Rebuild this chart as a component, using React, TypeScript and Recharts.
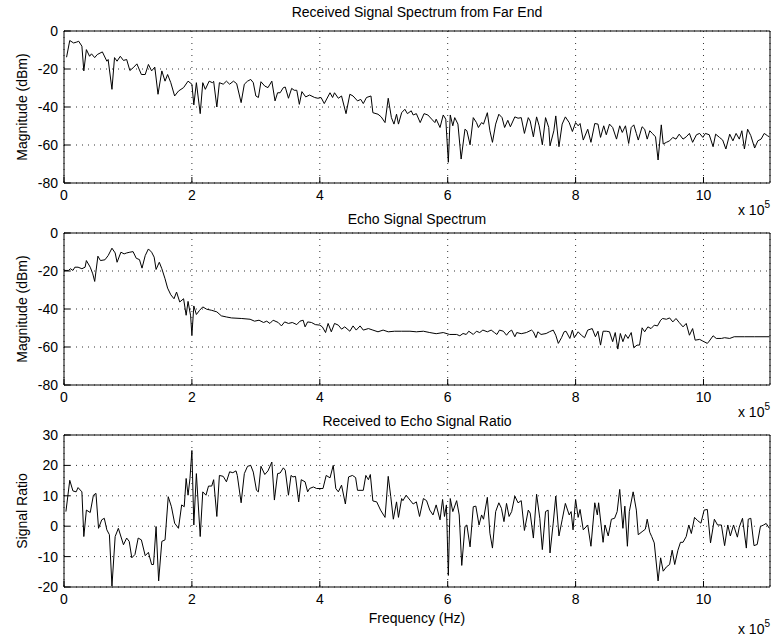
import { LineChart, Line, XAxis, YAxis, CartesianGrid } from "recharts";

const FONT = "'Liberation Sans', Arial, Helvetica, sans-serif";
const FS = 14;

// x in units of 1e5 Hz
const xTicks = [0, 2, 4, 6, 8, 10];
const magTicks = [-80, -60, -40, -20, 0];
const ratioTicks = [-20, -10, 0, 10, 20, 30];

const recvFreq = [
  0.04, 0.09, 0.15, 0.2, 0.23, 0.28, 0.31, 0.35, 0.4, 0.43, 0.48, 0.52, 0.6, 0.67, 0.69, 0.75, 0.79, 0.83, 0.88, 0.93,
  0.98, 1.03, 1.08, 1.14, 1.21, 1.27, 1.32, 1.37, 1.42, 1.47, 1.53, 1.58, 1.62, 1.67, 1.73, 1.79, 1.87, 1.94, 2.0, 2.03,
  2.07, 2.13, 2.17, 2.21, 2.27, 2.32, 2.34, 2.39, 2.43, 2.49, 2.54, 2.59, 2.65, 2.7, 2.77, 2.82, 2.87, 2.92, 2.96, 3.0,
  3.04, 3.08, 3.14, 3.19, 3.25, 3.3, 3.34, 3.38, 3.43, 3.46, 3.51, 3.56, 3.6, 3.64, 3.68, 3.72, 3.78, 3.84, 3.92, 3.97,
  4.02, 4.07, 4.16, 4.2, 4.23, 4.29, 4.34, 4.41, 4.47, 4.52, 4.59, 4.64, 4.68, 4.73, 4.8, 4.83, 4.91, 4.96, 5.02, 5.07,
  5.12, 5.16, 5.2, 5.23, 5.28, 5.33, 5.37, 5.43, 5.46, 5.51, 5.57, 5.63, 5.69, 5.75, 5.8, 5.82, 5.88, 5.93, 5.97, 6.01,
  6.04, 6.08, 6.11, 6.16, 6.21, 6.27, 6.3, 6.35, 6.4, 6.45, 6.48, 6.53, 6.56, 6.62, 6.66, 6.7, 6.75, 6.8, 6.85, 6.89,
  6.94, 6.98, 7.05, 7.1, 7.15, 7.2, 7.26, 7.29, 7.34, 7.39, 7.43, 7.48, 7.53, 7.58, 7.6, 7.66, 7.69, 7.74, 7.79, 7.84,
  7.9, 7.95, 8.0, 8.04, 8.07, 8.12, 8.19, 8.24, 8.3, 8.35, 8.39, 8.44, 8.48, 8.53, 8.58, 8.64, 8.69, 8.73, 8.78, 8.83,
  8.87, 8.91, 8.95, 8.98, 9.04, 9.08, 9.12, 9.16, 9.2, 9.25, 9.29, 9.34, 9.37, 9.42, 9.47, 9.52, 9.57, 9.62, 9.68, 9.73,
  9.78, 9.83, 9.89, 9.94, 9.99, 10.03, 10.09, 10.15, 10.19, 10.25, 10.3, 10.35, 10.41, 10.46, 10.51, 10.56, 10.6, 10.64,
  10.69, 10.74, 10.8, 10.85, 10.9, 10.95, 11.0, 11.03,
];
const recvDb = [
  -13.8, -5, -6.3, -5.8, -5.4, -8, -21, -9.8, -13.3, -12, -14, -12.4, -11, -15.9, -15, -30.7, -14, -15.9, -13.3, -15.5,
  -15, -20.8, -19.4, -17.3, -22.9, -22.9, -17.6, -21, -19, -33.3, -21, -26.4, -22.9, -27.2, -34.2, -31.6, -29.8, -26.4, -28, -38.9,
  -27.2, -43.5, -27.2, -30.7, -26.4, -27.2, -26.5, -40, -27.2, -28, -26.4, -28, -26.4, -27.7, -37.7, -28, -26.4, -25.5, -27.2, -34.2,
  -35, -26.7, -29, -29.8, -26.4, -36.8, -32.5, -32.5, -29.8, -29.5, -35.4, -30.2, -31.2, -31.2, -38.6, -31.9, -34.7, -33.7, -35, -35.4,
  -35, -38.2, -32.5, -35, -32.5, -35.4, -34.2, -43.5, -33.3, -34.2, -36.8, -36, -38.2, -35, -34.2, -43, -43.8, -45.2, -48.2, -35.4,
  -45.6, -49, -43.8, -49, -43, -41.2, -43.5, -42, -44.2, -43.5, -48.2, -43.5, -44.2, -46.4, -48.2, -46.4, -50.8, -44.2, -46.4, -69.1,
  -44.2, -49.9, -45.6, -49, -67.4, -51.7, -52.5, -59.9, -45.6, -48.2, -50.8, -48.2, -49, -43, -52.5, -58.6, -49, -43.8, -45.6, -50.8,
  -47, -50.4, -45.2, -45.9, -45.6, -53.9, -45.6, -47.4, -55.7, -45.2, -49.9, -59.9, -45.6, -50.8, -60.4, -52.5, -44.7, -60.9, -49, -45.2,
  -48.2, -52.9, -48.2, -49.9, -48.7, -57.4, -51.7, -58.6, -48.7, -49, -56, -49.9, -54.6, -49, -50.8, -56.9, -49.9, -53.4, -49.9, -59.2,
  -50.8, -49.4, -53.9, -57.4, -50.4, -51.7, -56.9, -52.5, -53.9, -55.7, -67.9, -49.4, -59.5, -58.6, -57.8, -56, -56.9, -54.3, -56.9, -55.7,
  -53.9, -58.6, -54.6, -53.9, -56, -53.9, -54.6, -60.9, -54.3, -56, -57.4, -62.1, -54.3, -57.8, -53.9, -56.9, -52.5, -62.1,
  -51.7, -55.1, -61.6, -57.8, -56.9, -53.9, -55.1, -55.7,
];

const echoFreq = [
  0, 0.07, 0.1, 0.14, 0.17, 0.22, 0.28, 0.33, 0.35, 0.41, 0.45, 0.48, 0.53, 0.57, 0.64, 0.69, 0.75, 0.8, 0.83, 0.89,
  0.94, 0.98, 1.03, 1.08, 1.13, 1.18, 1.22, 1.27, 1.32, 1.37, 1.41, 1.44, 1.49, 1.53, 1.58, 1.62, 1.67, 1.72, 1.76, 1.81,
  1.87, 1.91, 1.94, 1.98, 2.0, 2.03, 2.07, 2.12, 2.17, 2.23, 2.31, 2.39, 2.46, 2.54, 2.62, 2.78, 2.91, 2.98, 3.05, 3.12,
  3.17, 3.22, 3.27, 3.35, 3.4, 3.45, 3.51, 3.57, 3.64, 3.69, 3.74, 3.77, 3.81, 3.87, 3.93, 4.0, 4.04, 4.09, 4.13, 4.18,
  4.23, 4.29, 4.34, 4.39, 4.47, 4.52, 4.57, 4.63, 4.68, 4.76, 4.83, 4.91, 4.99, 5.07, 5.17, 5.28, 5.41, 5.51, 5.62, 5.72,
  5.82, 5.93, 6.03, 6.14, 6.19, 6.24, 6.29, 6.33, 6.4, 6.45, 6.5, 6.55, 6.62, 6.68, 6.73, 6.77, 6.81, 6.87, 6.92, 6.96,
  7.0, 7.05, 7.08, 7.15, 7.23, 7.31, 7.34, 7.38, 7.41, 7.46, 7.54, 7.59, 7.65, 7.69, 7.73, 7.78, 7.82, 7.85, 7.91, 7.95,
  7.98, 8.04, 8.09, 8.14, 8.19, 8.26, 8.31, 8.35, 8.39, 8.43, 8.48, 8.53, 8.58, 8.62, 8.66, 8.7, 8.74, 8.78, 8.82, 8.87,
  8.91, 8.96, 9.0, 9.04, 9.08, 9.13, 9.18, 9.23, 9.28, 9.33, 9.36, 9.42, 9.47, 9.52, 9.57, 9.62, 9.68, 9.73, 9.78, 9.83,
  9.87, 9.94, 9.99, 10.06, 10.09, 10.15, 10.2, 10.28, 10.33, 10.41, 10.48, 10.64, 10.8, 11.03,
];
const echoDb = [
  -19.7, -19.7, -18.8, -19.7, -18, -18, -18.8, -18, -14.5, -18, -21.5, -25.5, -12.2, -14.5, -14.1, -11.9, -8, -10.5, -15.4, -10.1,
  -11, -10.5, -10.1, -9.8, -13.3, -14, -18.5, -11.9, -8.4, -10.1, -12.7, -19.2, -15.4, -18.8, -24.1, -29, -32.5, -34.6, -31.1, -36.3,
  -34.6, -43.3, -36, -43.6, -53.8, -38.4, -42.9, -40.7, -38.9, -40.1, -40.7, -41.5, -43.6, -44.2, -44.7, -45, -45.4, -46.4, -45.9, -47.1,
  -46.4, -47.6, -45.9, -47.1, -48.9, -46.8, -47.6, -47.1, -48.2, -46.4, -45.9, -49.4, -46.8, -47.1, -48.2, -48.5, -49.4, -52.4, -47.6, -52,
  -47.6, -48.5, -50.6, -49.4, -51.7, -48.9, -51.1, -48.9, -51.1, -50.3, -51.1, -52, -51.1, -52, -51.7, -51.7, -51.7, -52, -51.7, -52.4,
  -53, -52.4, -53.4, -53.4, -54.1, -52.9, -53.4, -51.7, -53.4, -51.7, -52.4, -51.1, -52, -51.1, -52.4, -53.4, -51.1, -51.7, -53.8, -52,
  -51.1, -54.6, -52.4, -53, -52.4, -51.1, -52, -55.1, -52, -53.4, -52.9, -52, -51.1, -53.8, -58.1, -55.1, -52, -51.7, -55.5, -51.1,
  -55.1, -52, -53.8, -55.1, -51.1, -50.3, -54.6, -51.7, -59, -51.7, -51.7, -52, -57.2, -52.4, -61.1, -52.9, -57.2, -53.4, -55.5, -52.4,
  -60.4, -59, -59, -49.9, -52, -49.4, -50.3, -48.5, -48.9, -45.9, -45, -45.4, -44.7, -46.8, -45, -47.1, -49.4, -47.6, -53.8, -50.3,
  -56.4, -56, -56.9, -58.1, -56.9, -54.1, -55.5, -55.5, -55.1, -55.5, -54.6, -54.6, -54.6, -54.6,
];

const ratioFreq = [
  0.03, 0.09, 0.14, 0.19, 0.22, 0.28, 0.31, 0.35, 0.41, 0.46, 0.5, 0.54, 0.59, 0.63, 0.67, 0.71, 0.75, 0.8, 0.85, 0.93,
  0.98, 1.02, 1.06, 1.11, 1.16, 1.21, 1.27, 1.32, 1.37, 1.4, 1.44, 1.48, 1.53, 1.58, 1.63, 1.68, 1.73, 1.79, 1.84, 1.88,
  1.91, 1.94, 1.97, 2.0, 2.03, 2.07, 2.13, 2.17, 2.22, 2.26, 2.31, 2.34, 2.39, 2.43, 2.49, 2.54, 2.59, 2.64, 2.69, 2.71,
  2.77, 2.82, 2.87, 2.92, 2.96, 3.01, 3.04, 3.08, 3.14, 3.19, 3.25, 3.29, 3.34, 3.38, 3.43, 3.46, 3.51, 3.55, 3.58, 3.62,
  3.67, 3.71, 3.77, 3.81, 3.84, 3.9, 3.95, 4.02, 4.05, 4.1, 4.16, 4.21, 4.25, 4.29, 4.34, 4.4, 4.45, 4.51, 4.56, 4.59,
  4.68, 4.72, 4.76, 4.79, 4.83, 4.89, 4.95, 5.02, 5.07, 5.11, 5.15, 5.2, 5.23, 5.28, 5.3, 5.35, 5.41, 5.46, 5.51, 5.56,
  5.62, 5.67, 5.72, 5.77, 5.82, 5.88, 5.92, 5.95, 5.98, 6.01, 6.04, 6.08, 6.14, 6.18, 6.22, 6.27, 6.3, 6.35, 6.4, 6.44,
  6.49, 6.53, 6.56, 6.62, 6.66, 6.7, 6.75, 6.8, 6.84, 6.88, 6.92, 6.96, 7.0, 7.05, 7.1, 7.15, 7.2, 7.26, 7.29, 7.34,
  7.39, 7.44, 7.48, 7.53, 7.57, 7.6, 7.65, 7.69, 7.74, 7.79, 7.84, 7.9, 7.93, 7.96, 8.0, 8.04, 8.07, 8.12, 8.19, 8.24,
  8.3, 8.34, 8.36, 8.43, 8.46, 8.51, 8.56, 8.61, 8.65, 8.69, 8.74, 8.77, 8.81, 8.84, 8.9, 8.95, 8.98, 9.04, 9.09, 9.12,
  9.16, 9.19, 9.23, 9.29, 9.33, 9.37, 9.42, 9.47, 9.51, 9.55, 9.6, 9.64, 9.68, 9.73, 9.77, 9.81, 9.86, 9.91, 9.96, 10.01,
  10.06, 10.11, 10.17, 10.22, 10.28, 10.33, 10.38, 10.42, 10.47, 10.53, 10.56, 10.61, 10.67, 10.7, 10.74, 10.79, 10.84, 10.89,
  10.94, 10.98, 11.03,
];
const ratio = [
  4.8, 15.1, 11.6, 11.3, 12.7, 11.3, -3.4, 5.3, 4.5, 10.2, 10.8, -0.7, 2.1, 2.6, -1.2, -2.8, -19.7, -3.4, -0.7, -6.1,
  -3.9, -5, -10.4, -9.3, -3.9, -4.5, -9.7, -8.6, -12.6, -12.6, -0.1, -18, -5, -4.5, 9.7, 6.4, 1, -0.7, 7, 6.4,
  15.7, 10.2, 15.7, 24.9, 0.4, 17.3, -3.4, 11.3, 10.2, 13.2, 13.2, 15.3, 3.2, 16.7, 16.4, 14.6, 17.9, 17.6, 18.2, 16.7,
  7.7, 17.3, 19.7, 20, 17.8, 11.8, 11.3, 19.7, 17, 18.2, 21.1, 8.6, 17.3, 17.5, 19.2, 18.4, 10.2, 16.7, 16.2, 16.4,
  8, 15.3, 14.6, 11.3, 12.4, 12.9, 12.4, 12.4, 12.4, 16.7, 15.9, 20, 12.4, 11.3, 13.5, 7.3, 16.2, 16.7, 16, 11.8,
  11.8, 16.7, 15.3, 17, 8.3, 8, 5.3, 2.9, 16.4, 9.7, 2.3, 8, 2.9, 9.1, 8.4, 10.2, 8.6, 7.3, 8, 3.2,
  9.1, 8.4, 5.3, 3.7, 7, 2.1, 8.8, 3.2, 7, -16.2, 9.1, 4.8, 8.4, 3.7, -12.9, -0.1, 0.4, -6.8, 6.4, 6.6,
  0.4, 3.7, 2.3, 9.5, -2.3, -7.2, 4.8, 7.7, 5.9, 1.5, 7.5, 3.2, 4.8, 9.9, 7.7, 8.4, -1.4, 5.3, 4.3, -3.9,
  10.5, 2.6, -7.7, 4.8, 5.3, -8.8, 1, 9.9, -3.2, 2.1, 7.5, 3.7, 4.8, -1.2, 8.8, 2.9, 5.5, -1.2, 0.4, -6.6,
  7.7, 3.7, 7.7, -5.3, 0.4, -3.2, 2.3, 2.6, 4.8, 12.1, -0.7, 6.6, -6.6, 4.8, 11.3, 5.3, -2.8, -1.8, -1, 2.3,
  -2, -3.4, -5.5, -18, -10.4, -14.8, -13.4, -12.6, -7.9, -12.6, -7.9, -5.3, -5.3, -3.4, 0.4, -2.4, 2.9, 1.8, 1, 5.3,
  5.5, -5.5, 2.3, 0.4, 0.4, -6.4, 0.4, -3.2, 0.4, -3.6, -0.3, 2.6, -7.2, 2.3, 2.6, -6.4, -6, -0.1,
  0.4, 0.9, -0.7,
];

const PLOT_LEFT = 64;
const PLOT_RIGHT = 770;
const PLOT_TOP = 31;
const PLOT_BOTTOM = 183;
const CX = (PLOT_LEFT + PLOT_RIGHT) / 2;
const X_DOMAIN: [number, number] = [0, 11.04];

const textProps = { fontFamily: FONT, fontSize: FS, fill: "#000" };

function toRows(f: number[], v: number[]) {
  return f.map((x, i) => ({ f: x, v: v[i] }));
}

// left-axis label: draws the panel title and the rotated y title
function SideTexts({ yTitle, title, titleY }: { yTitle: string; title: string; titleY: number }) {
  const cx = 22;
  const cy = (PLOT_TOP + PLOT_BOTTOM) / 2;
  return (
    <g>
      <text x={CX} y={titleY} textAnchor="middle" dominantBaseline="central" {...textProps}>
        {title}
      </text>
      <text x={cx} y={cy} transform={`rotate(-90 ${cx} ${cy})`} textAnchor="middle" dominantBaseline="central" {...textProps}>
        {yTitle}
      </text>
    </g>
  );
}

function BottomNotes({ xLabel, noteY }: { xLabel?: string; noteY: number }) {
  return (
    <g>
      {xLabel && (
        <text x={CX} y={PLOT_BOTTOM + 31} textAnchor="middle" dominantBaseline="central" {...textProps}>
          {xLabel}
        </text>
      )}
      <text x={770} y={noteY} textAnchor="end" dominantBaseline="central" {...textProps}>
        x 10
        <tspan dy={-6} fontSize={10}>5</tspan>
      </text>
    </g>
  );
}

type PanelProps = {
  top: number;
  height: number;
  rows: { f: number; v: number }[];
  title: string;
  titleY: number;
  yTitle: string;
  yTicks: number[];
  yDomain: [number, number];
  xLabel?: string;
  noteY: number;
};

function Panel({ top, height, rows, title, titleY, yTitle, yTicks, yDomain, xLabel, noteY }: PanelProps) {
  return (
    <div style={{ position: "absolute", left: 0, top }}>
      <LineChart
        width={773}
        height={height}
        data={rows}
        margin={{ top: PLOT_TOP - 1, right: 773 - PLOT_RIGHT - 1, bottom: 0, left: 0 }}
      >
        <CartesianGrid stroke="#000" strokeDasharray="1 5" strokeWidth={0.8} />
        <XAxis
          dataKey="f"
          type="number"
          domain={X_DOMAIN}
          allowDataOverflow
          ticks={xTicks}
          interval={0}
          height={height - PLOT_BOTTOM}
          stroke="#000"
          tickSize={-6}
          tickMargin={13}
          tick={textProps}
          label={<BottomNotes xLabel={xLabel} noteY={noteY} />}
        />
        <XAxis
          xAxisId="top"
          orientation="top"
          type="number"
          domain={X_DOMAIN}
          allowDataOverflow
          ticks={xTicks}
          interval={0}
          height={1}
          stroke="#000"
          tickSize={-6}
          tick={false}
        />
        <YAxis
          type="number"
          domain={yDomain}
          allowDataOverflow
          ticks={yTicks}
          interval={0}
          width={PLOT_LEFT}
          stroke="#000"
          tickSize={-6}
          tickMargin={12}
          tick={textProps}
          label={<SideTexts yTitle={yTitle} title={title} titleY={titleY} />}
        />
        <YAxis
          yAxisId="right"
          orientation="right"
          type="number"
          domain={yDomain}
          allowDataOverflow
          ticks={yTicks}
          interval={0}
          width={1}
          stroke="#000"
          tickSize={-6}
          tick={false}
        />
        <Line type="linear" dataKey="v" stroke="#000" strokeWidth={1} dot={false} isAnimationActive={false} />
      </LineChart>
    </div>
  );
}

export default function App() {
  return (
    <div style={{ position: "relative", width: 773, height: 638, background: "#fff", overflow: "hidden" }}>
      <style>{`body{margin:0}`}</style>
      <Panel
        top={0}
        height={238}
        rows={toRows(recvFreq, recvDb)}
        title="Received Signal Spectrum from Far End"
        titleY={12}
        yTitle="Magnitude (dBm)"
        yTicks={magTicks}
        yDomain={[-80, 0]}
        noteY={PLOT_BOTTOM + 27}
      />
      <Panel
        top={202}
        height={238}
        rows={toRows(echoFreq, echoDb)}
        title="Echo Signal Spectrum"
        titleY={17}
        yTitle="Magnitude (dBm)"
        yTicks={magTicks}
        yDomain={[-80, 0]}
        noteY={PLOT_BOTTOM + 27}
      />
      <Panel
        top={404}
        height={234}
        rows={toRows(ratioFreq, ratio)}
        title="Received to Echo Signal Ratio"
        titleY={17}
        yTitle="Signal Ratio"
        yTicks={ratioTicks}
        yDomain={[-20, 30]}
        xLabel="Frequency (Hz)"
        noteY={PLOT_BOTTOM + 42}
      />
    </div>
  );
}
